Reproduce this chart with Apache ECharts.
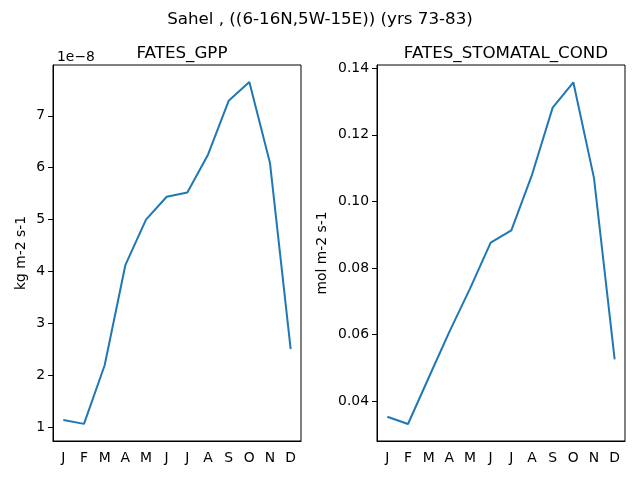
<!DOCTYPE html>
<html>
<head>
<meta charset="utf-8">
<script src="https://cdn.jsdelivr.net/npm/echarts@6/dist/echarts.min.js"></script>
<style>
  html, body { margin: 0; padding: 0; background: #fff; }
  #chart { width: 640px; height: 480px; }
</style>
</head>
<body>
<div id="chart"></div>
<script>
// months and monthly means
var months = ['J', 'F', 'M', 'A', 'M', 'J', 'J', 'A', 'S', 'O', 'N', 'D'];
var gpp = [1.135e-8, 1.06e-8, 2.19e-8, 4.12e-8, 5.0e-8, 5.44e-8, 5.52e-8, 6.25e-8, 7.29e-8, 7.65e-8, 6.09e-8, 2.5e-8];
var stomatal = [0.0353, 0.0331, 0.047, 0.0608, 0.0738, 0.0876, 0.0913, 0.108, 0.1282, 0.1358, 0.107, 0.0525];
var gppTicks = [1e-8, 2e-8, 3e-8, 4e-8, 5e-8, 6e-8, 7e-8];
var stomatalTicks = [0.04, 0.06, 0.08, 0.10, 0.12, 0.14];
var GPP_SCALE = 1e-8;

var font = 'DejaVu Sans';
var blue = '#1f77b4';

function xAxisFor(gridIndex) {
    return {
        type: 'category',
        gridIndex: gridIndex,
        data: months,
        boundaryGap: true,
        axisLine: { lineStyle: { color: '#000', width: 1 } },
        axisTick: { alignWithLabel: true, length: 5, lineStyle: { color: '#000' } },
        axisLabel: { color: '#000', fontFamily: font, fontSize: 13.9, margin: 10, interval: 0 },
        splitLine: { show: false }
    };
}

var myChart = echarts.init(document.getElementById('chart'));
var option = {
    animation: false,
    backgroundColor: '#fff',
    textStyle: { fontFamily: font },
    title: [
        { text: 'Sahel , ((6-16N,5W-15E)) (yrs 73-83)', left: 'center', top: 6,
          textStyle: { fontFamily: font, fontSize: 16.7, fontWeight: 'normal', color: '#000' } },
        { text: 'FATES_GPP', left: 177, textAlign: 'center', top: 40,
          textStyle: { fontFamily: font, fontSize: 16.7, fontWeight: 'normal', color: '#000' } },
        { text: 'FATES_STOMATAL_COND', left: 501, textAlign: 'center', top: 40,
          textStyle: { fontFamily: font, fontSize: 16.7, fontWeight: 'normal', color: '#000' } },
        { text: '1e\u22128', left: 52, top: 45,
          textStyle: { fontFamily: font, fontSize: 13.9, fontWeight: 'normal', color: '#000' } }
    ],
    grid: [
        { left: 53, top: 65, width: 248, height: 376, show: true, borderColor: '#000', borderWidth: 1 },
        { left: 377, top: 65, width: 248, height: 376, show: true, borderColor: '#000', borderWidth: 1 }
    ],
    xAxis: [xAxisFor(0), xAxisFor(1)],
    yAxis: [
        {
            type: 'value', gridIndex: 0,
            min: 0.73e-8, max: 7.98e-8,
            name: 'kg m-2 s-1', nameLocation: 'middle', nameGap: 25,
            nameTextStyle: { color: '#000', fontFamily: font, fontSize: 13.9 },
            axisLine: { show: true, lineStyle: { color: '#000' } },
            axisTick: { show: true, length: 5, customValues: gppTicks, lineStyle: { color: '#000' } },
            axisLabel: { color: '#000', fontFamily: font, fontSize: 13.9, margin: 8,
                customValues: gppTicks,
                formatter: function (v) { return String(Math.round(v / GPP_SCALE)); } },
            splitLine: { show: false }
        },
        {
            type: 'value', gridIndex: 1,
            min: 0.028, max: 0.141,
            name: 'mol m-2 s-1', nameLocation: 'middle', nameGap: 48,
            nameTextStyle: { color: '#000', fontFamily: font, fontSize: 13.9 },
            axisLine: { show: true, lineStyle: { color: '#000' } },
            axisTick: { show: true, length: 5, customValues: stomatalTicks, lineStyle: { color: '#000' } },
            axisLabel: { color: '#000', fontFamily: font, fontSize: 13.9, margin: 8,
                customValues: stomatalTicks,
                formatter: function (v) { return v.toFixed(2); } },
            splitLine: { show: false }
        }
    ],
    series: [
        { name: 'FATES_GPP', type: 'line', xAxisIndex: 0, yAxisIndex: 0, data: gpp,
          showSymbol: false, lineStyle: { color: blue, width: 2 }, itemStyle: { color: blue } },
        { name: 'FATES_STOMATAL_COND', type: 'line', xAxisIndex: 1, yAxisIndex: 1, data: stomatal,
          showSymbol: false, lineStyle: { color: blue, width: 2 }, itemStyle: { color: blue } }
    ]
};
myChart.setOption(option);
</script>
</body>
</html>
